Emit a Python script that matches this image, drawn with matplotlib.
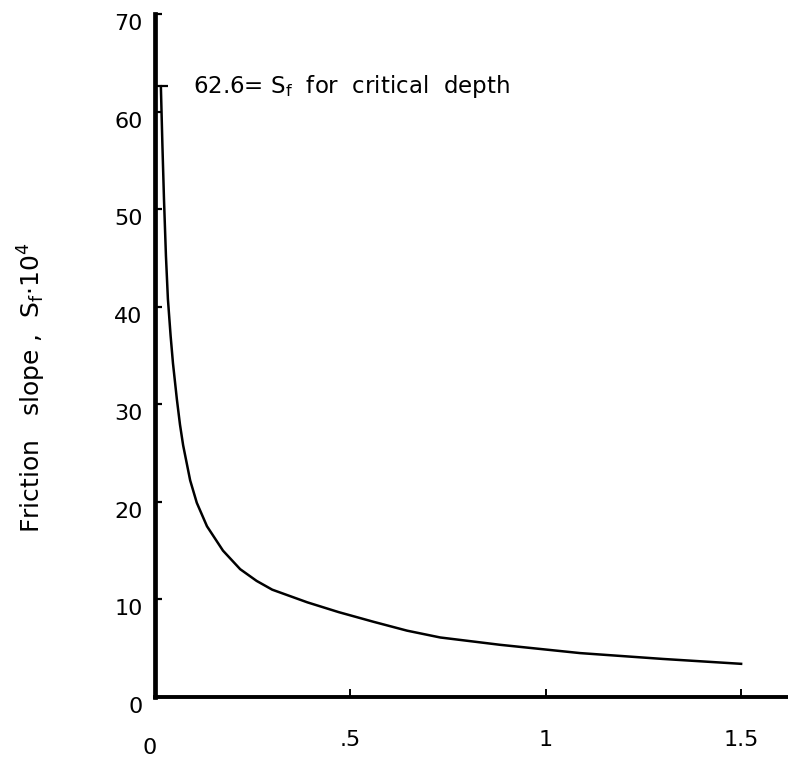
import matplotlib
matplotlib.use("Agg")
import matplotlib.pyplot as plt
import matplotlib.transforms as mtransforms

# values
depth = [0.015, 0.019, 0.023, 0.028, 0.033, 0.040, 0.046, 0.056, 0.064,
         0.072, 0.090, 0.107, 0.133, 0.174, 0.218, 0.260, 0.300, 0.390,
         0.470, 0.560, 0.645, 0.730, 0.883, 1.088, 1.300, 1.500]
friction = [62.6, 56.5, 51.0, 45.2, 40.8, 37.0, 34.2, 30.5, 27.9,
            25.8, 22.2, 19.9, 17.5, 15.0, 13.1, 11.9, 11.0, 9.7,
            8.7, 7.7, 6.8, 6.1, 5.35, 4.5, 3.9, 3.4]

x_ticks = [0, 0.5, 1, 1.5]
x_labels = ["0", ".5", "1", "1.5"]
y_ticks = [0, 10, 20, 30, 40, 50, 60, 70]
y_labels = ["0", "10", "20", "30", "40", "50", "60", "70"]
critical = 62.6

plt.rcParams['font.family'] = ['DejaVu Sans']
plt.rcParams['mathtext.fontset'] = 'custom'
plt.rcParams['mathtext.rm'] = 'DejaVu Sans'
plt.rcParams['mathtext.it'] = 'DejaVu Sans'

fig = plt.figure(figsize=(7.88, 7.64), dpi=100)
ax = fig.add_axes([155 / 788, 1 - 697 / 764, 1 - 155 / 788, (697 - 14) / 764])

ax.plot(depth, friction, color='black', linewidth=1.8,
        solid_joinstyle='round')

ax.set_xlim(0, 1.62)
ax.set_ylim(0, 70)

for side in ['top', 'right']:
    ax.spines[side].set_visible(False)
ax.spines['left'].set_linewidth(3.4)
ax.spines['bottom'].set_linewidth(2.8)

ax.set_xticks(x_ticks[1:])
ax.set_xticklabels(x_labels[1:])
ax.set_yticks(y_ticks)
ax.set_yticklabels(y_labels)
ax.set_yticks([critical], minor=True)

ax.tick_params(axis='y', which='major', direction='in', length=5, width=1.6,
               labelsize=16, pad=9)
ax.tick_params(axis='y', which='minor', direction='in', length=9, width=1.6,
               labelleft=False)
ax.tick_params(axis='x', which='major', direction='in', length=6, width=1.4,
               labelsize=16, pad=24)

# hand-lettered labels sit a little below their ticks
shift = mtransforms.ScaledTranslation(0, -8 / 100, fig.dpi_scale_trans)
for lab in ax.get_yticklabels():
    lab.set_transform(lab.get_transform() + shift)

# the origin "0" under the x axis
ax.text(-0.013, -0.06, "0", transform=ax.get_xaxis_transform(), fontsize=16,
        ha='center', va='top')

ax.text(0.097, critical, r"62.6= S$_{f}$  for  critical  depth", fontsize=16.5,
        va='center', ha='left')

fig.text(32 / 788, 1 - 388 / 764, r"Friction   slope ,  S$_{f}$$\cdot$10$^{4}$",
         rotation=90, fontsize=18, ha='center', va='center')

fig.savefig("out.png", dpi=100)
